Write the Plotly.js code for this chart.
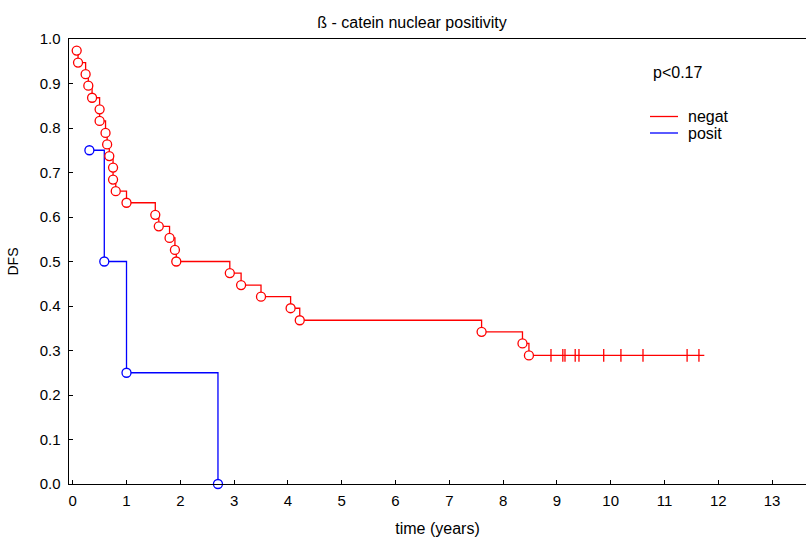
<!DOCTYPE html>
<html>
<head>
<meta charset="utf-8">
<script src="https://cdn.plot.ly/plotly-3.0.1.min.js"></script>
<style>html,body{margin:0;padding:0;background:#fff;}#chart{width:806px;height:540px;}</style>
</head>
<body>
<div id="chart"></div>
<script>
// negat group: event times (years) and survival after each event
var negTimes = [0.074,0.099,0.24,0.29,0.36,0.50,0.50,0.61,0.64,0.68,0.75,0.75,0.80,1.00,1.535,1.60,1.80,1.90,1.925,2.92,3.13,3.50,4.05,4.22,7.60,8.36,8.48];
var negSurv  = [0.974,0.947,0.921,0.895,0.868,0.842,0.816,0.789,0.763,0.737,0.711,0.684,0.658,0.632,0.605,0.579,0.553,0.526,0.500,0.474,0.447,0.421,0.395,0.368,0.342,0.316,0.289];
var negCensTimes = [8.89,9.11,9.15,9.34,9.41,9.87,10.19,10.60,11.42,11.64];
var negCensSurv  = [0.289,0.289,0.289,0.289,0.289,0.289,0.289,0.289,0.289,0.289];
var negEndTime = 11.74;
var negEndSurv = 0.289;
// posit group
var posTimes = [0.31,0.587,1.00,2.70];
var posSurv  = [0.75,0.50,0.25,0.00];

var xTicks = [0,1,2,3,4,5,6,7,8,9,10,11,12,13];
var yTicks = [0.0,0.1,0.2,0.3,0.4,0.5,0.6,0.7,0.8,0.9,1.0];
var groupNames = ['negat','posit'];
var pText = 'p<0.17';

var RED = '#ff0000', BLUE = '#0000ff';
var FONT = 'Liberation Sans, Arial, sans-serif';

var traces = [
  {x: negTimes.concat([negEndTime]), y: negSurv.concat([negEndSurv]), mode:'lines', line:{shape:'hv', color:RED, width:1.3}, name:groupNames[0], showlegend:false, cliponaxis:false},
  {x: posTimes, y: posSurv, mode:'lines', line:{shape:'hv', color:BLUE, width:1.3}, name:groupNames[1], showlegend:false, cliponaxis:false},
  {x: negTimes, y: negSurv, mode:'markers', marker:{symbol:'circle', size:9, color:'#ffffff', line:{color:RED, width:1.3}}, showlegend:false, cliponaxis:false},
  {x: posTimes, y: posSurv, mode:'markers', marker:{symbol:'circle', size:9, color:'#ffffff', line:{color:BLUE, width:1.3}}, showlegend:false, cliponaxis:false},
  {x: negCensTimes, y: negCensSurv, mode:'markers', marker:{symbol:'line-ns', size:9, color:RED, line:{color:RED, width:1.3}}, showlegend:false, cliponaxis:false}
];

// legend geometry (paper coords)
var PL = 69, PW = 737, PB = 484, PH = 445;
function px(x){return (x-PL)/PW;}
function py(y){return (PB-y)/PH;}

var layout = {
  width:806, height:540,
  margin:{l:69, r:0, t:39, b:56},
  paper_bgcolor:'#fff', plot_bgcolor:'#fff',
  font:{family:FONT, size:15, color:'#000'},
  title:{text:'ß - catein nuclear positivity', font:{size:16, color:'#000'}, x:412/806, xanchor:'center', xref:'container', y:1-22.5/540, yanchor:'middle'},
  xaxis:{range:[-0.069,13.63], tickvals:xTicks, ticktext:xTicks.map(String), ticks:'inside', ticklen:4, tickcolor:'#000', showgrid:false, zeroline:false, showline:true, linecolor:'#000', linewidth:1.4, mirror:true,
         ticklabelstandoff:3, title:{text:'time (years)', font:{size:16}, standoff:14}, tickfont:{size:15}},
  yaxis:{range:[0,1], tickvals:yTicks, ticktext:yTicks.map(function(v){return v.toFixed(1);}), ticks:'inside', ticklen:4, tickcolor:'#000', showgrid:false, zeroline:false, showline:true, linecolor:'#000', linewidth:1.4,
         ticklabelstandoff:4, title:{text:'DFS', font:{size:14}, standoff:18}, tickfont:{size:15}},
  showlegend:false,
  shapes:[
    {type:'line', xref:'paper', yref:'paper', x0:px(650), x1:px(678), y0:py(116.5), y1:py(116.5), line:{color:RED, width:1.3}},
    {type:'line', xref:'paper', yref:'paper', x0:px(650), x1:px(678), y0:py(133), y1:py(133), line:{color:BLUE, width:1.3}}
  ],
  annotations:[
    {text:pText, xref:'paper', yref:'paper', x:px(651), y:py(72), xanchor:'left', yanchor:'middle', showarrow:false, font:{size:16}},
    {text:groupNames[0], xref:'paper', yref:'paper', x:px(686), y:py(116), xanchor:'left', yanchor:'middle', showarrow:false, font:{size:16}},
    {text:groupNames[1], xref:'paper', yref:'paper', x:px(686), y:py(133), xanchor:'left', yanchor:'middle', showarrow:false, font:{size:16}}
  ]
};

Plotly.newPlot('chart', traces, layout, {displayModeBar:false, staticPlot:true});
</script>
</body>
</html>
